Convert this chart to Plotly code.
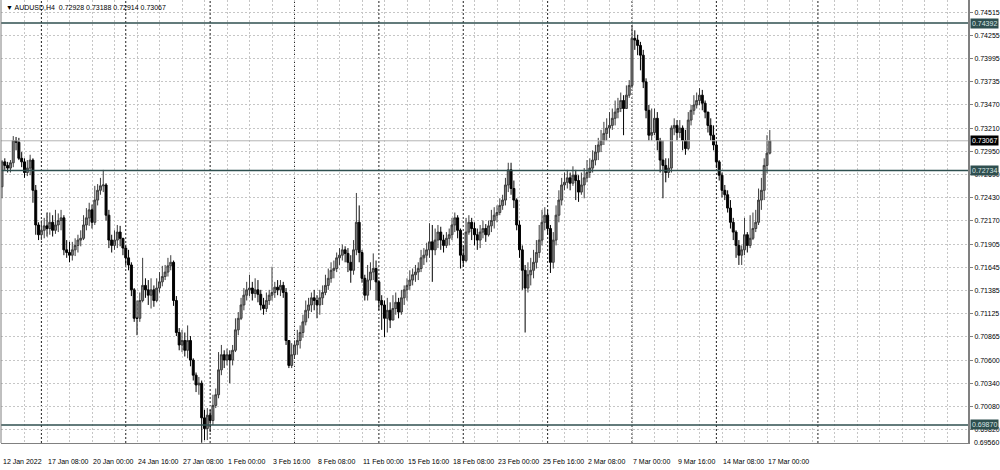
import plotly.graph_objects as go

# ---------------- data (AUDUSD, H4) ----------------
first_open = 0.7255
closes = [
0.7283,0.7279,0.7276,0.7282,0.7307,0.7305,0.7287,0.7283,0.7271,0.7276,
0.7285,0.7251,0.7212,0.7201,0.7206,0.7211,0.7208,0.7215,0.7206,0.7212,
0.7217,0.7220,0.7184,0.7181,0.7178,0.7184,0.7189,0.7195,0.7197,0.7212,
0.7220,0.7229,0.7215,0.7240,0.7251,0.7256,0.7257,0.7223,0.7195,0.7189,
0.7195,0.7204,0.7197,0.7186,0.7175,0.7167,0.7139,0.7107,0.7107,0.7127,
0.7144,0.7139,0.7133,0.7139,0.7127,0.7141,0.7148,0.7154,0.7159,0.7166,
0.7170,0.7127,0.7091,0.7077,0.7082,0.7071,0.7082,0.7060,0.7043,0.7032,
0.7034,0.6995,0.6983,0.6998,0.6992,0.7009,0.7021,0.7049,0.7066,0.7060,
0.7066,0.7060,0.7071,0.7094,0.7107,0.7122,0.7133,0.7139,0.7141,0.7135,
0.7139,0.7134,0.7122,0.7118,0.7127,0.7133,0.7136,0.7142,0.7139,0.7144,
0.7136,0.7082,0.7054,0.7066,0.7077,0.7082,0.7091,0.7103,0.7116,0.7122,
0.7130,0.7127,0.7122,0.7130,0.7136,0.7144,0.7152,0.7161,0.7163,0.7175,
0.7178,0.7184,0.7180,0.7170,0.7161,0.7184,0.7215,0.7181,0.7152,0.7133,
0.7150,0.7159,0.7163,0.7148,0.7127,0.7122,0.7107,0.7116,0.7105,0.7118,
0.7125,0.7114,0.7130,0.7139,0.7144,0.7150,0.7156,0.7159,0.7163,0.7175,
0.7178,0.7184,0.7193,0.7184,0.7195,0.7204,0.7195,0.7189,0.7197,0.7201,
0.7212,0.7220,0.7206,0.7178,0.7172,0.7204,0.7215,0.7208,0.7201,0.7195,
0.7204,0.7208,0.7201,0.7211,0.7217,0.7223,0.7226,0.7234,0.7240,0.7257,
0.7274,0.7253,0.7240,0.7212,0.7184,0.7161,0.7141,0.7156,0.7161,0.7170,
0.7181,0.7195,0.7215,0.7223,0.7208,0.7170,0.7195,0.7223,0.7240,0.7257,
0.7260,0.7265,0.7259,0.7268,0.7262,0.7249,0.7257,0.7265,0.7271,0.7276,
0.7285,0.7294,0.7302,0.7307,0.7315,0.7321,0.7324,0.7332,0.7339,0.7343,
0.7352,0.7343,0.7358,0.7369,0.7422,0.7420,0.7414,0.7403,0.7373,0.7341,
0.7313,0.7316,0.7332,0.7307,0.7285,0.7279,0.7271,0.7276,0.7321,0.7324,
0.7316,0.7321,0.7307,0.7298,0.7330,0.7341,0.7347,0.7352,0.7358,0.7349,
0.7339,0.7324,0.7313,0.7302,0.7283,0.7268,0.7251,0.7246,0.7231,0.7215,
0.7204,0.7189,0.7178,0.7184,0.7201,0.7189,0.7197,0.7208,0.7215,0.7240,
0.7251,0.7279,0.72928,0.73067]
highs = [
0.7285,0.7287,0.7283,0.7285,0.7312,0.7311,0.7310,0.7294,0.7287,0.7285,
0.7291,0.7287,0.7257,0.7215,0.7217,0.7220,0.7226,0.7226,0.7223,0.7229,
0.7225,0.7229,0.7223,0.7195,0.7193,0.7193,0.7197,0.7201,0.7206,0.7223,
0.7231,0.7237,0.7235,0.7256,0.7258,0.7265,0.7274,0.7259,0.7229,0.7201,
0.7206,0.7212,0.7211,0.7197,0.7189,0.7184,0.7170,0.7141,0.7127,0.7136,
0.7175,0.7152,0.7150,0.7152,0.7144,0.7152,0.7159,0.7166,0.7167,0.7175,
0.7178,0.7172,0.7132,0.7096,0.7094,0.7091,0.7099,0.7087,0.7062,0.7046,
0.7041,0.7037,0.7004,0.7006,0.7004,0.7021,0.7028,0.7069,0.7077,0.7071,
0.7073,0.7071,0.7077,0.7107,0.7114,0.7130,0.7141,0.7148,0.7156,0.7148,
0.7152,0.7150,0.7139,0.7130,0.7136,0.7139,0.7165,0.7148,0.7150,0.7150,
0.7148,0.7141,0.7082,0.7079,0.7082,0.7094,0.7099,0.7111,0.7127,0.7130,
0.7136,0.7139,0.7133,0.7139,0.7144,0.7156,0.7163,0.7170,0.7172,0.7181,
0.7186,0.7190,0.7188,0.7186,0.7178,0.7195,0.7248,0.7234,0.7184,0.7156,
0.7167,0.7170,0.7180,0.7172,0.7150,0.7133,0.7127,0.7130,0.7125,0.7133,
0.7136,0.7130,0.7139,0.7144,0.7152,0.7161,0.7163,0.7167,0.7170,0.7184,
0.7186,0.7192,0.7214,0.7212,0.7208,0.7212,0.7210,0.7201,0.7204,0.7208,
0.7220,0.7226,0.7223,0.7208,0.7189,0.7220,0.7223,0.7220,0.7215,0.7208,
0.7212,0.7217,0.7213,0.7217,0.7229,0.7232,0.7234,0.7242,0.7246,0.7265,
0.7282,0.7282,0.7262,0.7242,0.7217,0.7189,0.7167,0.7170,0.7175,0.7184,
0.7195,0.7212,0.7229,0.7232,0.7229,0.7212,0.7204,0.7234,0.7251,0.7265,
0.7271,0.7274,0.7271,0.7278,0.7274,0.7268,0.7271,0.7276,0.7285,0.7287,
0.7296,0.7302,0.7310,0.7319,0.7328,0.7332,0.7339,0.7343,0.7352,0.7355,
0.7361,0.7358,0.7369,0.7375,0.7437,0.7431,0.7426,0.7418,0.7409,0.7377,
0.7347,0.7343,0.7343,0.7339,0.7310,0.7307,0.7287,0.7287,0.7324,0.7332,
0.7330,0.7330,0.7324,0.7319,0.7339,0.7347,0.7358,0.7361,0.7366,0.7364,
0.7352,0.7339,0.7332,0.7324,0.7307,0.7285,0.7271,0.7257,0.7251,0.7240,
0.7220,0.7206,0.7195,0.7189,0.7220,0.7204,0.7223,0.7226,0.7229,0.7253,
0.7265,0.7287,0.7313,0.73188]
lows = [
0.7242,0.7274,0.7271,0.7271,0.7277,0.7296,0.7285,0.7277,0.7265,0.7267,
0.7268,0.7237,0.7201,0.7195,0.7195,0.7197,0.7199,0.7201,0.7199,0.7202,
0.7204,0.7206,0.7178,0.7175,0.7170,0.7172,0.7177,0.7181,0.7188,0.7195,
0.7206,0.7211,0.7208,0.7212,0.7234,0.7246,0.7249,0.7217,0.7186,0.7181,
0.7184,0.7186,0.7188,0.7178,0.7167,0.7161,0.7132,0.7103,0.7088,0.7103,
0.7125,0.7130,0.7122,0.7118,0.7120,0.7125,0.7136,0.7143,0.7150,0.7154,
0.7161,0.7121,0.7087,0.7071,0.7069,0.7064,0.7062,0.7053,0.7037,0.7024,
0.7021,0.6967,0.6970,0.6970,0.6979,0.6987,0.7006,0.7017,0.7043,0.7051,
0.7054,0.7034,0.7054,0.7069,0.7088,0.7105,0.7116,0.7127,0.7132,0.7127,
0.7130,0.7125,0.7116,0.7111,0.7114,0.7122,0.7127,0.7130,0.7133,0.7132,
0.7130,0.7077,0.7051,0.7051,0.7062,0.7066,0.7073,0.7085,0.7099,0.7107,
0.7114,0.7116,0.7107,0.7111,0.7122,0.7133,0.7139,0.7147,0.7152,0.7159,
0.7167,0.7172,0.7170,0.7159,0.7147,0.7156,0.7178,0.7170,0.7147,0.7127,
0.7127,0.7139,0.7150,0.7127,0.7116,0.7094,0.7086,0.7091,0.7096,0.7105,
0.7111,0.7107,0.7111,0.7122,0.7127,0.7139,0.7144,0.7148,0.7150,0.7159,
0.7167,0.7170,0.7175,0.7148,0.7178,0.7186,0.7184,0.7181,0.7186,0.7189,
0.7195,0.7204,0.7197,0.7163,0.7165,0.7170,0.7201,0.7195,0.7189,0.7184,
0.7186,0.7197,0.7193,0.7199,0.7204,0.7208,0.7215,0.7223,0.7229,0.7234,
0.7249,0.7246,0.7231,0.7206,0.7175,0.7139,0.7091,0.7136,0.7144,0.7152,
0.7163,0.7175,0.7189,0.7206,0.7201,0.7158,0.7163,0.7189,0.7215,0.7234,
0.7251,0.7253,0.7251,0.7256,0.7240,0.7238,0.7246,0.7242,0.7260,0.7265,
0.7271,0.7279,0.7285,0.7294,0.7302,0.7307,0.7310,0.7319,0.7324,0.7332,
0.7339,0.7313,0.7347,0.7355,0.7366,0.7409,0.7403,0.7386,0.7366,0.7332,
0.7307,0.7307,0.7313,0.7296,0.7271,0.7242,0.7260,0.7265,0.7271,0.7313,
0.7307,0.7310,0.7296,0.7291,0.7296,0.7324,0.7336,0.7343,0.7347,0.7341,
0.7332,0.7316,0.7307,0.7296,0.7276,0.7262,0.7243,0.7240,0.7226,0.7208,
0.7195,0.7175,0.7167,0.7167,0.7178,0.7181,0.7186,0.7195,0.7204,0.7212,
0.7229,0.7240,0.7270,0.72914]

x_label_bars = [0, 16, 32, 48, 64, 80, 96, 112, 128, 144, 160, 176, 192, 208, 224, 240, 256, 272]
x_label_text = ["12 Jan 2022", "17 Jan 08:00", "20 Jan 00:00", "24 Jan 16:00", "27 Jan 08:00",
                "1 Feb 00:00", "3 Feb 16:00", "8 Feb 08:00", "11 Feb 00:00", "15 Feb 16:00",
                "18 Feb 08:00", "23 Feb 00:00", "25 Feb 16:00", "2 Mar 08:00", "7 Mar 00:00",
                "9 Mar 16:00", "14 Mar 08:00", "17 Mar 00:00"]
week_separator_bars = [14, 44, 74, 104, 134, 164, 194, 224, 254, 290.1]
y_tick_vals = [0.74515, 0.74255, 0.73995, 0.73735, 0.73470, 0.73210, 0.72950, 0.72690, 0.72430,
               0.72170, 0.71905, 0.71645, 0.71385, 0.71125, 0.70865, 0.70600, 0.70340, 0.70080, 0.69820]
bottom_price_label = "0.69560"
level_lines = [0.74392, 0.72734, 0.69870]
bid_price = 0.73067
header = "AUDUSD,H4  0.72928 0.73188 0.72914 0.73067"

# ---------------- build ----------------
n = len(closes)
xs = list(range(n))
opens = [first_open] + closes[:-1]
hi = [max(h, o, c) for h, o, c in zip(highs, opens, closes)]
lo = [min(l, o, c) for l, o, c in zip(lows, opens, closes)]

FONT = "Liberation Sans, Arial, sans-serif"
GRID = "#c6c6c6"
LEVEL = "#2f4f4f"

fig = go.Figure()
fig.add_trace(go.Candlestick(
    x=xs, open=opens, high=hi, low=lo, close=closes,
    increasing=dict(line=dict(color="#3c3c3c", width=1), fillcolor="#808080"),
    decreasing=dict(line=dict(color="#000000", width=1), fillcolor="#000000"),
    whiskerwidth=0, hoverinfo="skip", showlegend=False,
))

x_px0, bar_px = 2.0, 2.8125
plot_left, plot_right = 1, 968
xr = [(plot_left - x_px0) / bar_px, (plot_right - x_px0) / bar_px]

shapes = []
for b in week_separator_bars:
    shapes.append(dict(type="line", xref="x", yref="paper", x0=b, x1=b, y0=0, y1=1,
                       line=dict(color="#202020", width=1, dash="2px,2px"), layer="below"))
shapes.append(dict(type="line", xref="paper", yref="y", x0=0, x1=1, y0=bid_price, y1=bid_price,
                   line=dict(color="#b4b4b4", width=1)))
for lv in level_lines:
    shapes.append(dict(type="line", xref="paper", yref="y", x0=0, x1=1, y0=lv, y1=lv,
                       line=dict(color=LEVEL, width=1.5)))
shapes.append(dict(type="line", xref="paper", yref="paper", x0=0, x1=0, y0=0, y1=1,
                   line=dict(color="#808080", width=1)))

annotations = []
for b, t in zip(x_label_bars, x_label_text):
    annotations.append(dict(x=b, xref="x", y=0, yref="paper", text=t, showarrow=False,
                            xanchor="left", yanchor="middle", yshift=-18, xshift=-1,
                            font=dict(family=FONT, size=7, color="#000000")))
for lv in level_lines:
    annotations.append(dict(x=1, xref="paper", y=lv, yref="y", text=f"{lv:.5f}", showarrow=False,
                            xanchor="left", yanchor="middle", xshift=2, bgcolor=LEVEL, borderpad=1,
                            font=dict(family=FONT, size=7, color="#d8e4e4")))
annotations.append(dict(x=1, xref="paper", y=bid_price, yref="y", text=f"{bid_price:.5f}", showarrow=False,
                        xanchor="left", yanchor="middle", xshift=2, bgcolor="#000000", borderpad=1,
                        font=dict(family=FONT, size=7, color="#ffffff")))
annotations.append(dict(x=1, xref="paper", y=0, yref="paper", text=bottom_price_label, showarrow=False,
                        xanchor="left", yanchor="middle", xshift=4, yshift=1,
                        font=dict(family=FONT, size=7, color="#000000")))
annotations.append(dict(x=0, xref="paper", y=1, yref="paper", text="\u25BC " + header, showarrow=False,
                        xanchor="left", yanchor="top", xshift=3, yshift=-2,
                        font=dict(family=FONT, size=7, color="#000000")))

fig.update_layout(
    width=1000, height=470,
    margin=dict(l=1, r=32, t=0, b=27),
    paper_bgcolor="#ffffff", plot_bgcolor="#ffffff",
    boxgap=0.0,
    xaxis=dict(range=xr, tickvals=list(range(0, 344, 8)), showticklabels=False, ticks="",
               showgrid=True, gridcolor=GRID, gridwidth=1, griddash="2px,2px",
               zeroline=False, showline=True, linecolor="#808080", linewidth=1,
               rangeslider=dict(visible=False), fixedrange=True),
    yaxis=dict(range=[0.69667, 0.74651], side="right", tickvals=y_tick_vals,
               ticktext=[f"{v:.5f}" for v in y_tick_vals], ticks="outside", ticklen=3,
               tickcolor="#808080", tickfont=dict(family=FONT, size=7, color="#000000"),
               showgrid=True, gridcolor=GRID, gridwidth=1, griddash="2px,2px",
               zeroline=False, showline=True, linecolor="#808080", linewidth=2, fixedrange=True),
    shapes=shapes, annotations=annotations,
)

fig.write_html("out.html", config={"displayModeBar": False, "staticPlot": True},
               post_script="document.body.style.margin='0';document.body.style.overflow='hidden';")
